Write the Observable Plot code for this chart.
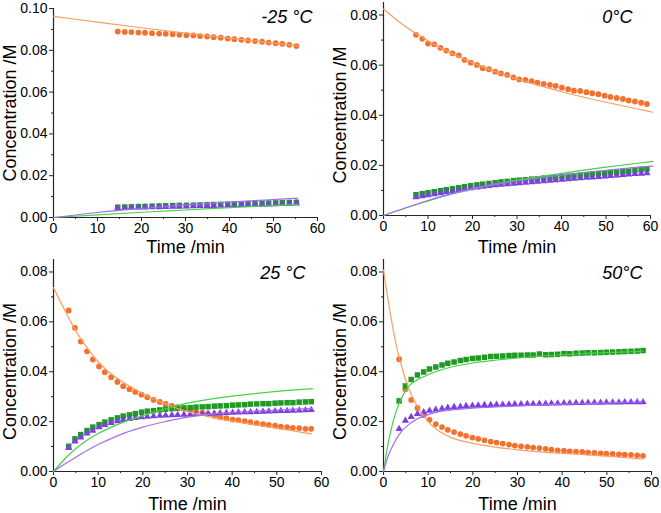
<!DOCTYPE html>
<html><head><meta charset="utf-8">
<script src="https://cdn.jsdelivr.net/npm/d3@7"></script>
<script src="https://cdn.jsdelivr.net/npm/@observablehq/plot@0.6"></script>
<style>
body{margin:0;background:#fff;}
#wrap{position:relative;width:661px;height:513px;overflow:hidden;background:#fff;}
#wrap svg{position:absolute;overflow:visible;}
</style></head><body><div id="wrap"></div>
<script>
// ---- tick labels / text ----
const xTicks = [0,10,20,30,40,50,60];
const xMinor = [5,15,25,35,45,55];
const yTicksA = [0,0.02,0.04,0.06,0.08,0.10];
const yMinorA = [0.01,0.03,0.05,0.07,0.09];
const yTicksB = [0,0.02,0.04,0.06,0.08];
const yMinorB = [0.01,0.03,0.05,0.07];
const panelLabels = ["-25 °C","0°C","25 °C","50°C"];
const xTitle = "Time /min";
const yTitle = "Concentration /M";

// ---- -25 °C ----
const tA = [14.6,16.2,17.7,19.3,20.8,22.4,24.0,25.5,27.1,28.6,30.2,31.8,33.3,34.9,36.4,38.0,39.6,41.1,42.7,44.2,45.8,47.4,48.9,50.5,52.0,53.6,55.2];
const orangeA = [0.0890,0.0888,0.0887,0.0885,0.0884,0.0882,0.0880,0.0879,0.0877,0.0874,0.0872,0.0871,0.0868,0.0866,0.0863,0.0860,0.0856,0.0853,0.0850,0.0847,0.0844,0.0841,0.0837,0.0834,0.0831,0.0826,0.0820];
const greenA = [0.0049,0.0050,0.0051,0.0052,0.0053,0.0054,0.0055,0.0056,0.0057,0.0058,0.0058,0.0059,0.0060,0.0061,0.0062,0.0063,0.0064,0.0064,0.0065,0.0066,0.0067,0.0068,0.0069,0.0070,0.0071,0.0072,0.0073];
const purpleA = [0.0045,0.0046,0.0047,0.0048,0.0048,0.0049,0.0050,0.0051,0.0052,0.0052,0.0053,0.0054,0.0055,0.0056,0.0056,0.0057,0.0058,0.0059,0.0060,0.0060,0.0061,0.0062,0.0063,0.0064,0.0065,0.0066,0.0067];
const fitOrangeA = [[0,0.0962],[10,0.0935],[20,0.0908],[30,0.0882],[40,0.0858],[50,0.0834],[55.5,0.0821]];
const fitGreenA = [[0,0],[10,0.0013],[20,0.0025],[30,0.0036],[40,0.0047],[50,0.0057],[55.5,0.0062]];
const fitPurpleA = [[0,0],[10,0.0024],[20,0.0043],[30,0.0060],[40,0.0074],[50,0.0086],[55.5,0.0093]];

// ---- 0 °C ----
const tB = [7.3,8.7,10.0,11.4,12.8,14.1,15.5,16.9,18.2,19.6,21.0,22.3,23.7,25.1,26.4,27.8,29.2,30.5,31.9,33.3,34.6,36.0,37.4,38.7,40.1,41.5,42.8,44.2,45.6,46.9,48.3,49.7,51.0,52.4,53.8,55.1,56.5,57.9,59.2];
const orangeB = [0.0721,0.0705,0.0686,0.0683,0.0669,0.0658,0.0647,0.0639,0.0621,0.0610,0.0601,0.0588,0.0584,0.0574,0.0567,0.0561,0.0551,0.0543,0.0541,0.0536,0.0530,0.0525,0.0521,0.0517,0.0510,0.0504,0.0498,0.0497,0.0492,0.0488,0.0484,0.0478,0.0473,0.0469,0.0465,0.0459,0.0455,0.0450,0.0445];
const greenB = [0.0083,0.0087,0.0091,0.0095,0.0099,0.0103,0.0107,0.0111,0.0115,0.0119,0.0122,0.0125,0.0128,0.0131,0.0134,0.0136,0.0139,0.0141,0.0143,0.0145,0.0147,0.0149,0.0151,0.0153,0.0155,0.0157,0.0159,0.0161,0.0163,0.0165,0.0167,0.0169,0.0171,0.0173,0.0175,0.0177,0.0180,0.0183,0.0186];
const purpleB = [0.0073,0.0077,0.0081,0.0085,0.0089,0.0093,0.0097,0.0101,0.0105,0.0109,0.0112,0.0115,0.0118,0.0121,0.0123,0.0125,0.0127,0.0129,0.0131,0.0133,0.0135,0.0137,0.0139,0.0141,0.0143,0.0145,0.0147,0.0149,0.0151,0.0152,0.0154,0.0156,0.0158,0.0160,0.0162,0.0164,0.0166,0.0167,0.0169];
const fitOrangeB = [[0,0.0824],[4,0.0766],[8,0.0718],[12,0.0677],[16,0.0641],[20,0.0610],[25,0.0575],[30,0.0545],[35,0.0518],[40,0.0494],[45,0.0472],[50,0.0452],[55,0.0433],[60.5,0.0412]];
const fitGreenB = [[0,0],[5,0.0030],[10,0.0058],[15,0.0084],[20,0.0106],[25,0.0125],[30,0.0141],[35,0.0155],[40,0.0168],[45,0.0181],[50,0.0193],[55,0.0204],[60.5,0.0216]];
const fitPurpleB = [[0,0],[5,0.0031],[10,0.0060],[15,0.0085],[20,0.0106],[25,0.0123],[30,0.0137],[35,0.0150],[40,0.0161],[45,0.0171],[50,0.0180],[55,0.0189],[60.5,0.0197]];

// ---- 25 °C ----
const tC = [3.4,4.8,6.1,7.5,8.8,10.2,11.5,12.9,14.3,15.6,17.0,18.3,19.7,21.0,22.4,23.8,25.1,26.5,27.8,29.2,30.6,31.9,33.3,34.6,36.0,37.3,38.7,40.1,41.4,42.8,44.1,45.5,46.9,48.2,49.6,50.9,52.3,53.6,55.0,56.4,57.7];
const orangeC = [0.0646,0.0576,0.0521,0.0482,0.0449,0.0421,0.0398,0.0378,0.0359,0.0342,0.0330,0.0319,0.0308,0.0298,0.0287,0.0279,0.0271,0.0263,0.0258,0.0252,0.0247,0.0240,0.0235,0.0230,0.0224,0.0218,0.0214,0.0208,0.0206,0.0202,0.0198,0.0194,0.0190,0.0187,0.0184,0.0180,0.0178,0.0175,0.0174,0.0171,0.0171];
const greenC = [0.0101,0.0131,0.0148,0.0164,0.0178,0.0188,0.0198,0.0207,0.0215,0.0222,0.0227,0.0232,0.0238,0.0242,0.0244,0.0247,0.0250,0.0252,0.0254,0.0255,0.0256,0.0258,0.0259,0.0260,0.0262,0.0263,0.0264,0.0266,0.0267,0.0268,0.0270,0.0271,0.0272,0.0272,0.0274,0.0275,0.0276,0.0276,0.0278,0.0279,0.0280];
const purpleC = [0.0095,0.0121,0.0137,0.0153,0.0164,0.0178,0.0187,0.0195,0.0202,0.0207,0.0211,0.0215,0.0218,0.0220,0.0222,0.0224,0.0225,0.0226,0.0227,0.0228,0.0229,0.0230,0.0231,0.0232,0.0233,0.0234,0.0235,0.0236,0.0237,0.0238,0.0238,0.0239,0.0240,0.0241,0.0242,0.0243,0.0243,0.0244,0.0245,0.0246,0.0247];
const fitOrangeC = [[0,0.0737],[2,0.0665],[4,0.0595],[6,0.0535],[8,0.0485],[10,0.0440],[12,0.0405],[15,0.0365],[18,0.0333],[21.6,0.0298],[25,0.0272],[29,0.0245],[33,0.0227],[37,0.0212],[41,0.0199],[45,0.0187],[50,0.0173],[54,0.0162],[57.7,0.0151]];
const fitGreenC = [[0,0],[2,0.0040],[4,0.0076],[6,0.0106],[8,0.0131],[10,0.0152],[13,0.0178],[16,0.0200],[19.3,0.0220],[23,0.0240],[26,0.0255],[29,0.0270],[33,0.0284],[37,0.0295],[41,0.0304],[45,0.0312],[50,0.0321],[54,0.0327],[58,0.0332]];
const fitPurpleC = [[0,0],[2,0.0024],[4,0.0046],[6,0.0068],[8,0.0089],[10,0.0108],[13,0.0133],[16,0.0155],[20,0.0178],[25,0.0200],[29,0.0215],[33.5,0.0227],[38,0.0235],[44,0.0241],[50,0.0246],[58,0.0253]];

// ---- 50 °C ----
const tD = [3.5,4.9,6.2,7.6,9.0,10.3,11.7,13.1,14.4,15.8,17.2,18.5,19.9,21.2,22.6,24.0,25.3,26.7,28.1,29.4,30.8,32.2,33.5,34.9,36.3,37.6,39.0,40.4,41.7,43.1,44.5,45.8,47.2,48.6,49.9,51.3,52.7,54.0,55.4,56.8,58.1];
const orangeD = [0.0450,0.0330,0.0287,0.0255,0.0226,0.0207,0.0190,0.0178,0.0167,0.0158,0.0150,0.0143,0.0136,0.0131,0.0125,0.0120,0.0116,0.0112,0.0108,0.0104,0.0101,0.0099,0.0096,0.0094,0.0091,0.0088,0.0085,0.0084,0.0081,0.0080,0.0079,0.0076,0.0075,0.0073,0.0072,0.0071,0.0069,0.0068,0.0067,0.0065,0.0063];
const greenD = [0.0283,0.0343,0.0369,0.0387,0.0399,0.0411,0.0419,0.0427,0.0434,0.0439,0.0445,0.0449,0.0453,0.0455,0.0458,0.0461,0.0462,0.0463,0.0465,0.0466,0.0466,0.0467,0.0467,0.0471,0.0468,0.0469,0.0470,0.0473,0.0472,0.0474,0.0475,0.0476,0.0476,0.0477,0.0478,0.0479,0.0480,0.0481,0.0482,0.0483,0.0485];
const purpleD = [0.0171,0.0204,0.0219,0.0231,0.0238,0.0244,0.0248,0.0252,0.0256,0.0259,0.0260,0.0263,0.0264,0.0265,0.0267,0.0267,0.0268,0.0268,0.0269,0.0270,0.0270,0.0271,0.0271,0.0272,0.0272,0.0273,0.0273,0.0274,0.0274,0.0275,0.0275,0.0276,0.0276,0.0276,0.0277,0.0277,0.0277,0.0278,0.0278,0.0278,0.0278];
const fitOrangeD = [[0,0.0808],[1,0.0690],[2,0.0585],[3,0.0495],[4,0.0425],[5,0.0365],[6,0.0318],[7,0.0280],[8,0.0248],[10,0.0200],[12,0.0167],[15,0.0137],[20,0.0113],[25,0.0098],[30,0.0087],[35,0.0079],[40,0.0073],[45,0.0068],[50,0.0062],[58,0.0050]];
const fitGreenD = [[0,0],[1,0.0110],[2,0.0190],[3,0.0250],[4,0.0293],[5,0.0325],[6,0.0348],[7,0.0362],[8,0.0372],[10,0.0388],[12,0.0402],[15,0.0418],[20,0.0435],[25,0.0446],[30,0.0455],[40,0.0468],[50,0.0477],[58,0.0482]];
const fitPurpleD = [[0,0],[1,0.0060],[2,0.0100],[3,0.0135],[4,0.0160],[5,0.0178],[6,0.0193],[7,0.0205],[8,0.0215],[10,0.0228],[12,0.0238],[15,0.0246],[20,0.0254],[30,0.0263],[40,0.0270],[50,0.0275],[58,0.0280]];

// ---- styling ----
const C = {
  oDot:"#F4702E", oLine:"#F7A062",
  gDot:"#1F9A22", gLine:"#44D444",
  pDot:"#7B3FE4", pLine:"#A070EE",
  axis:"#262626"
};
const FONT = "Liberation Sans, Arial, Helvetica, sans-serif";

function panel(cfg, data) {
  const fit = (arr, color) => Plot.line(arr, {x: d => d[0], y: d => d[1], stroke: color, strokeWidth: 1.2, curve: "monotone-x"});
  const txt = {fontFamily: FONT, fontWeight: "normal", fill: "#000", fontSize: 18};
  const svg = Plot.plot({
    width: cfg.w, height: cfg.h,
    marginLeft: cfg.ml, marginRight: cfg.mr, marginTop: cfg.mt, marginBottom: cfg.mb,
    style: {fontFamily: FONT, fontSize: "14px", fontWeight: "normal", color: "#000", background: "transparent", overflow: "visible"},
    x: {domain: [0, 60]},
    y: {domain: [0, cfg.ymax]},
    marks: [
      Plot.axisX(xTicks, {tickSize: 4, tickPadding: 2, tickFormat: d => String(d), label: null, stroke: C.axis, fill: "#000", fontSize: 14}),
      Plot.axisX(xMinor, {tickSize: 2, tickFormat: () => "", label: null, stroke: C.axis}),
      Plot.axisY(cfg.yTicks, {tickSize: 4, tickPadding: 2, tickFormat: d3.format(".2f"), label: null, stroke: C.axis, fill: "#000", fontSize: 14}),
      Plot.axisY(cfg.yMinor, {tickSize: 2, tickFormat: () => "", label: null, stroke: C.axis}),
      Plot.ruleX([0], {stroke: C.axis, strokeWidth: 1.2}),
      Plot.ruleY([0], {stroke: C.axis, strokeWidth: 1.2}),
      Plot.dot(data.orange, {x: data.t, y: data.orange, symbol: "circle", r: 2.9, fill: C.oDot}),
      Plot.dot(data.green, {x: data.t, y: data.green, symbol: "square", r: 3.1, fill: C.gDot}),
      Plot.dot(data.purple, {x: data.t, y: data.purple, symbol: "triangle", r: 2.7, fill: C.pDot}),
      fit(data.fo, C.oLine),
      fit(data.fg, C.gLine),
      fit(data.fp, C.pLine),
      Plot.text([yTitle], {...txt, text: d => d, frameAnchor: "left", textAnchor: "middle", lineAnchor: "middle", dx: -43, dy: cfg.ytdy, rotate: -90}),
      Plot.text([xTitle], {...txt, text: d => d, frameAnchor: "bottom", textAnchor: "middle", lineAnchor: "middle", dy: cfg.xtdy}),
      Plot.text([cfg.label], {...txt, text: d => d, frameAnchor: "top-right", textAnchor: "end", lineAnchor: "middle", dx: cfg.ldx, dy: cfg.ldy, fontStyle: "italic"})
    ]
  });
  svg.style.left = cfg.left + "px";
  svg.style.top = cfg.top + "px";
  document.getElementById("wrap").appendChild(svg);
}

panel({left:0, top:0, w:330, h:256, ml:53, mr:13, mt:8, mb:39, ymax:0.10, yTicks:yTicksA, yMinor:yMinorA, label:panelLabels[0], ldx:-5, ldy:9, xtdy:30, ytdy:0},
      {t:tA, orange:orangeA, green:greenA, purple:purpleA, fo:fitOrangeA, fg:fitGreenA, fp:fitPurpleA});
panel({left:330, top:0, w:331, h:256, ml:53, mr:11, mt:2, mb:41, ymax:0.085, yTicks:yTicksB, yMinor:yMinorB, label:panelLabels[1], ldx:-18, ldy:15, xtdy:32, ytdy:6},
      {t:tB, orange:orangeB, green:greenB, purple:purpleB, fo:fitOrangeB, fg:fitGreenB, fp:fitPurpleB});
panel({left:0, top:256, w:330, h:257, ml:53, mr:9, mt:3, mb:42, ymax:0.085, yTicks:yTicksB, yMinor:yMinorB, label:panelLabels[2], ldx:-16, ldy:14, xtdy:33, ytdy:6},
      {t:tC, orange:orangeC, green:greenC, purple:purpleC, fo:fitOrangeC, fg:fitGreenC, fp:fitPurpleC});
panel({left:330, top:256, w:331, h:257, ml:53, mr:10, mt:3, mb:42, ymax:0.085, yTicks:yTicksB, yMinor:yMinorB, label:panelLabels[3], ldx:-9, ldy:14, xtdy:33, ytdy:6},
      {t:tD, orange:orangeD, green:greenD, purple:purpleD, fo:fitOrangeD, fg:fitGreenD, fp:fitPurpleD});
</script>
</body></html>
